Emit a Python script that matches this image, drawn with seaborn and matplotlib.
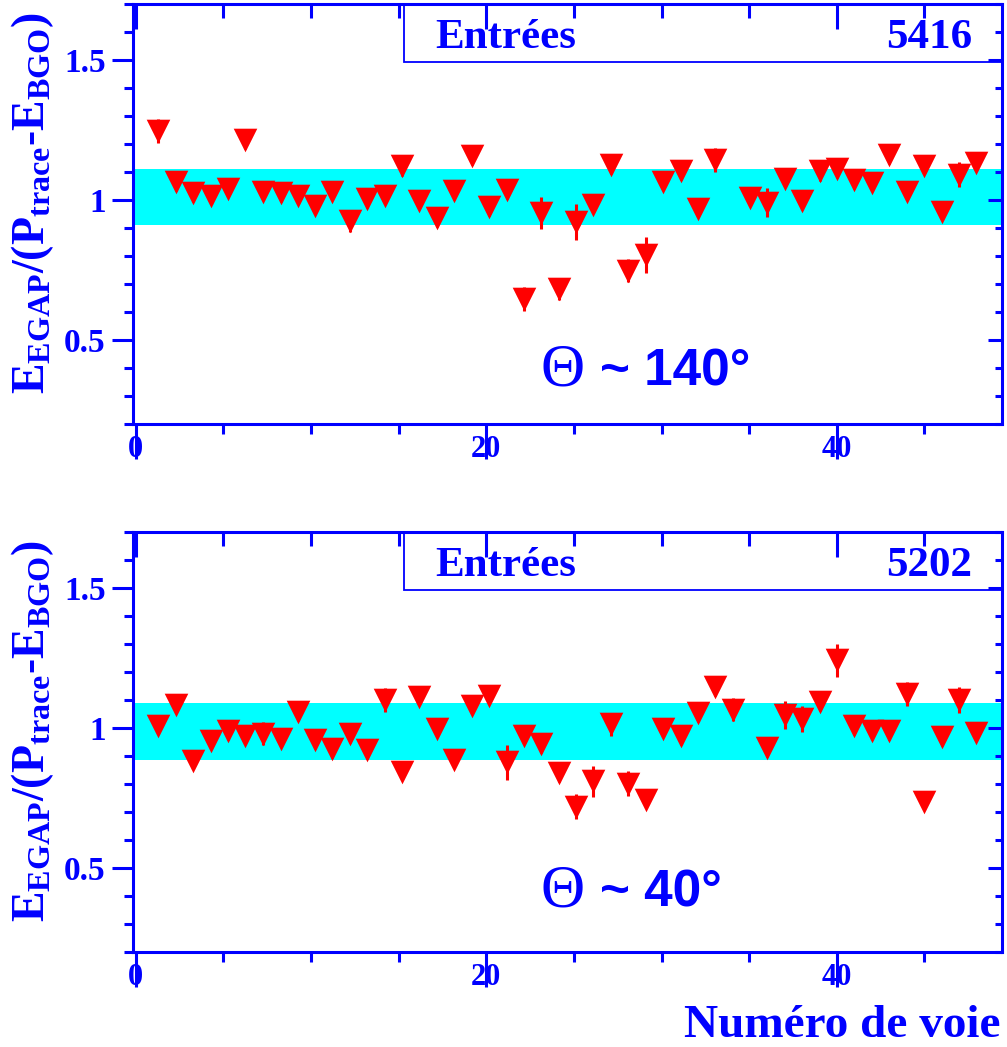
import matplotlib
matplotlib.use("Agg")
import matplotlib.pyplot as plt
from matplotlib.patches import Rectangle
from matplotlib.ticker import MultipleLocator
import seaborn as sns
import pandas as pd

# Données (rapport E_EGAP/(P_trace-E_BGO) par voie)
voies_haut = [1.29, 2.30, 3.29, 4.28, 5.27, 6.25, 7.28, 8.27, 9.24, 10.25,
              11.22, 12.21, 13.19, 14.20, 15.19, 16.18, 17.19, 18.17, 19.17, 20.15,
              21.16, 22.15, 23.14, 24.15, 25.12, 26.10, 27.10, 28.10, 29.09, 30.08,
              31.09, 32.08, 33.06, 35.06, 36.03, 37.02, 38.03, 39.02, 40.01, 40.99,
              41.99, 42.99, 43.98, 44.99, 45.98, 46.96, 47.93]
rapport_haut = [1.248, 1.063, 1.024, 1.015, 1.040, 1.213, 1.030, 1.024, 1.016, 0.980,
                1.030, 0.924, 1.002, 1.014, 1.121, 0.998, 0.935, 1.031, 1.156, 0.974,
                1.034, 0.647, 0.954, 0.682, 0.921, 0.982, 1.124, 0.748, 0.803, 1.064,
                1.103, 0.968, 1.142, 1.007, 0.990, 1.075, 0.996, 1.102, 1.110, 1.070,
                1.061, 1.159, 1.030, 1.123, 0.958, 1.091, 1.133]
erreur_haut = [0.043, 0.03, 0.03, 0.03, 0.03, 0.03, 0.03, 0.03, 0.03, 0.03,
               0.03, 0.040, 0.03, 0.03, 0.035, 0.03, 0.03, 0.03, 0.03, 0.03,
               0.03, 0.043, 0.057, 0.040, 0.064, 0.03, 0.03, 0.040, 0.064, 0.03,
               0.03, 0.03, 0.042, 0.03, 0.052, 0.03, 0.03, 0.035, 0.03, 0.03,
               0.03, 0.03, 0.03, 0.03, 0.03, 0.043, 0.03]

voies_bas = [1.29, 2.30, 3.29, 4.28, 5.27, 6.25, 7.28, 8.27, 9.24, 10.25,
             11.22, 12.21, 13.19, 14.20, 15.19, 16.18, 17.19, 18.17, 19.17, 20.15,
             21.16, 22.15, 23.14, 24.15, 25.12, 26.10, 27.10, 28.10, 29.09, 30.08,
             31.09, 32.08, 33.06, 34.06, 36.03, 37.02, 38.03, 39.02, 40.01, 40.99,
             41.99, 42.99, 43.98, 44.99, 45.98, 46.96, 47.93]
rapport_bas = [1.009, 1.084, 0.884, 0.955, 0.989, 0.974, 0.981, 0.963, 1.057, 0.957,
               0.925, 0.979, 0.921, 1.102, 0.845, 1.112, 0.998, 0.888, 1.080, 1.117,
               0.879, 0.974, 0.943, 0.839, 0.720, 0.811, 1.014, 0.802, 0.745, 0.999,
               0.971, 1.054, 1.146, 1.066, 0.928, 1.049, 1.032, 1.093, 1.243, 1.007,
               0.989, 0.989, 1.124, 0.738, 0.968, 1.100, 0.984]
erreur_bas = [0.03, 0.03, 0.03, 0.03, 0.03, 0.03, 0.040, 0.03, 0.03, 0.03,
              0.03, 0.03, 0.03, 0.043, 0.03, 0.03, 0.03, 0.03, 0.03, 0.03,
              0.062, 0.03, 0.03, 0.03, 0.045, 0.055, 0.040, 0.045, 0.03, 0.03,
              0.03, 0.03, 0.03, 0.041, 0.03, 0.050, 0.046, 0.03, 0.058, 0.03,
              0.03, 0.03, 0.043, 0.03, 0.03, 0.046, 0.03]

bande_haut = (0.91, 1.11)
bande_bas = (0.885, 1.09)
entrees = ["5416", "5202"]
angles = ["140", "40"]

BLEU = (0, 0, 1)
ROUGE = (1, 0, 0)
CYAN = (0, 1, 1)

sns.set_style("white")
plt.rcParams['font.family'] = ['Liberation Serif', 'DejaVu Serif']
plt.rcParams['font.weight'] = 'bold'
plt.rcParams['mathtext.default'] = 'regular'

W, H = 1007, 1047
fig = plt.figure(figsize=(W / 100, H / 100), dpi=100)

# positions des cadres en pixels (gauche, haut, droite, bas)
cadres = [(133.3, 4.0, 1002.3, 424.0), (133.3, 532.3, 1002.3, 952.3)]
XLIM = (-0.14, 49.44)
YLIM = (0.2, 1.7)


def graduer(a):
    a.set_xlim(*XLIM)
    a.set_ylim(*YLIM)
    a.set_xticks([0, 20, 40])
    a.xaxis.set_minor_locator(MultipleLocator(5))
    a.set_yticks([0.5, 1, 1.5])
    a.yaxis.set_minor_locator(MultipleLocator(0.1))


def tracer_panneau(ax, voies, rapport, erreur, bande, n_entrees, angle, base_theta):
    ax.axhspan(bande[0], bande[1], color=CYAN, lw=0, zorder=0.5)
    ax.errorbar(voies, rapport, yerr=erreur, fmt='none', ecolor=ROUGE,
                elinewidth=2.2, capsize=0, zorder=2)
    df = pd.DataFrame({'voie': voies, 'rapport': rapport})
    sns.scatterplot(data=df, x='voie', y='rapport', marker='v', s=17 ** 2,
                    color=ROUGE, linewidth=0, ax=ax, zorder=3)

    graduer(ax)
    ax.set_xlabel('')
    ax.set_ylabel('')
    ax.set_xticklabels(['0', '20', '40'])
    ax.set_yticklabels(['0.5', '1', '1.5'])
    for s in ax.spines.values():
        s.set_color(BLEU)
        s.set_linewidth(2.2)
    ax.tick_params(bottom=True, left=True, top=False, right=False, which='both')
    ax.tick_params(axis='x', which='major', direction='out', length=25, width=2.2,
                   color=BLEU, labelcolor=BLEU, labelsize=22, pad=-17)
    ax.tick_params(axis='x', which='minor', direction='out', length=7, width=2.2, color=BLEU)
    ax.tick_params(axis='y', which='major', direction='out', length=15, width=2.2,
                   color=BLEU, labelcolor=BLEU, labelsize=24, pad=5)
    ax.tick_params(axis='y', which='minor', direction='out', length=6.5, width=2.2, color=BLEU)

    # boite des entrées
    ax.add_patch(Rectangle((0.3115, 0.862), 0.6885, 0.138, transform=ax.transAxes,
                           facecolor='white', edgecolor=BLEU, lw=1.3, zorder=1))
    ax.text(0.347, 0.895, 'Entrées', transform=ax.transAxes, color=BLEU,
            fontsize=31, fontweight='bold', ha='left', va='baseline', zorder=4)
    ax.text(0.965, 0.895, n_entrees, transform=ax.transAxes, color=BLEU,
            fontsize=31, fontweight='bold', ha='right', va='baseline', zorder=4)

    # angle
    ax.text(0.469, base_theta, 'Θ', transform=ax.transAxes, color=BLEU,
            fontsize=44, fontweight='normal', family=['Liberation Serif', 'DejaVu Serif'],
            ha='left', va='baseline', zorder=4)
    ax.text(0.537, base_theta, '~ ' + angle + '°', transform=ax.transAxes, color=BLEU,
            fontsize=37, fontweight='bold', family=['Liberation Sans', 'DejaVu Sans'],
            ha='left', va='baseline', zorder=4)


series = [(voies_haut, rapport_haut, erreur_haut, bande_haut, 0.0905),
          (voies_bas, rapport_bas, erreur_bas, bande_bas, 0.110)]

for i, (g, t, d, b) in enumerate(cadres):
    rect = [g / W, 1 - b / H, (d - g) / W, (b - t) / H]
    ax = fig.add_axes(rect)
    voies, rapport, erreur, bande, base = series[i]
    tracer_panneau(ax, voies, rapport, erreur, bande, entrees[i], angles[i], base)

    # graduations internes en haut et à droite, par-dessus la boite
    dessus = fig.add_axes(rect, facecolor='none', zorder=ax.get_zorder() + 1)
    graduer(dessus)
    for s in dessus.spines.values():
        s.set_visible(False)
    dessus.tick_params(which='both', bottom=False, left=False, top=True, right=True,
                       labelbottom=False, labelleft=False, direction='in',
                       width=2.2, color=BLEU)
    dessus.tick_params(axis='x', which='major', length=18)
    dessus.tick_params(axis='x', which='minor', length=10)
    dessus.tick_params(axis='y', which='major', length=10)
    dessus.tick_params(axis='y', which='minor', length=5)

    yc = (t + b) / 2 - 11
    fig.text(33 / W, 1 - yc / H, r'$E_{EGAP}$/($P_{trace}$-$E_{BGO}$)', rotation=90,
             ha='center', va='center', color=BLEU, fontsize=33, fontweight='bold')

fig.text(1000 / W, 1 - 1037 / H, 'Numéro de voie', ha='right', va='baseline',
         color=BLEU, fontsize=34, fontweight='bold')

fig.savefig('out.png', dpi=100)
